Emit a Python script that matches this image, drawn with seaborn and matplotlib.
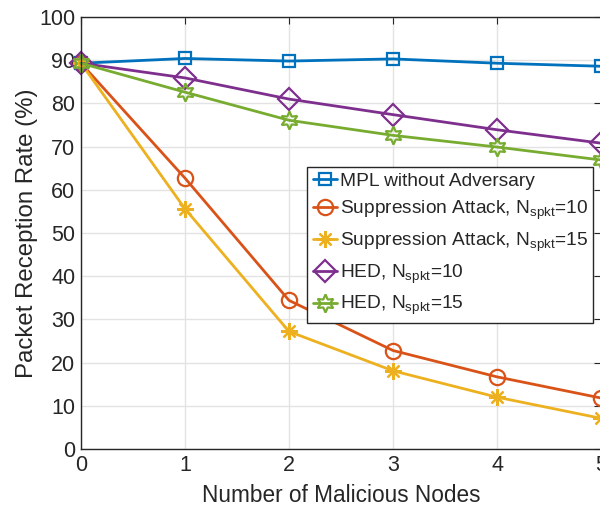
import matplotlib
matplotlib.use("Agg")
import matplotlib.pyplot as plt
import seaborn as sns
import pandas as pd

x_nodes = [0, 1, 2, 3, 4, 5]
mpl_no_adv = [89.3, 90.4, 89.8, 90.3, 89.3, 88.6]
supp_10 = [89.3, 62.7, 34.4, 22.8, 16.7, 11.8]
supp_15 = [89.3, 55.6, 27.2, 18.1, 12.0, 7.1]
hed_10 = [89.3, 85.9, 81.0, 77.4, 73.9, 70.8]
hed_15 = [89.3, 82.6, 76.1, 72.6, 69.9, 66.9]

labels = [
    "MPL without Adversary",
    r"Suppression Attack, N$_{\mathrm{spkt}}$=10",
    r"Suppression Attack, N$_{\mathrm{spkt}}$=15",
    r"HED, N$_{\mathrm{spkt}}$=10",
    r"HED, N$_{\mathrm{spkt}}$=15",
]
series = [mpl_no_adv, supp_10, supp_15, hed_10, hed_15]
colors = ["#0072BD", "#D95319", "#EDB120", "#7E2F8E", "#77AC30"]
markers = ["s", "o", (8, 2, 0), "D", (6, 1, 0)]
msizes = [9, 11, 12, 11, 13]

sns.set_style("white")
plt.rcParams["font.family"] = ["Liberation Sans", "DejaVu Sans"]
plt.rcParams["mathtext.fontset"] = "custom"
plt.rcParams["mathtext.rm"] = "Liberation Sans"
plt.rcParams["mathtext.it"] = "Liberation Sans:italic"

rows = []
for lab, vals in zip(labels, series):
    for xv, yv in zip(x_nodes, vals):
        rows.append({"x": xv, "y": yv, "series": lab})
df = pd.DataFrame(rows)

fig = plt.figure(figsize=(6.0, 5.15), dpi=100)
ax = fig.add_axes([81 / 600, 1 - 449 / 515, 520 / 600, 432 / 515])

for lab, col, mk, ms in zip(labels, colors, markers, msizes):
    sub = df[df["series"] == lab]
    sns.lineplot(data=sub, x="x", y="y", ax=ax, color=col, marker=mk,
                 markersize=ms, markerfacecolor="none", markeredgecolor=col,
                 markeredgewidth=1.6, linewidth=2.0, label=lab, clip_on=False)

ax.set_xlim(0, 5)
ax.set_ylim(0, 100)
ax.set_xticks(range(0, 6))
ax.set_yticks(range(0, 101, 10))
ax.grid(True, color="#e3e3e3", linewidth=1.0)
ax.set_axisbelow(True)
for s in ax.spines.values():
    s.set_color("#262626")
    s.set_linewidth(1.0)
ax.tick_params(direction="in", length=5, labelsize=15.5, colors="#262626",
               top=True, right=True, pad=4)
ax.set_xlabel("Number of Malicious Nodes", fontsize=16.3, color="#262626", labelpad=6)
ax.set_ylabel("Packet Reception Rate (%)", fontsize=17.3, color="#262626", labelpad=1)

leg = ax.legend(loc="upper left", bbox_to_anchor=((307 - 81) / 520, (449 - 167) / 432),
                borderaxespad=0, fontsize=13.8, frameon=True, fancybox=False,
                handlelength=1.25, handletextpad=0.15, borderpad=0.3, labelspacing=0.45)
leg.get_frame().set_edgecolor("#262626")
leg.get_frame().set_linewidth(1.0)
leg.get_frame().set_alpha(1.0)

fig.savefig("out.png", dpi=100)
